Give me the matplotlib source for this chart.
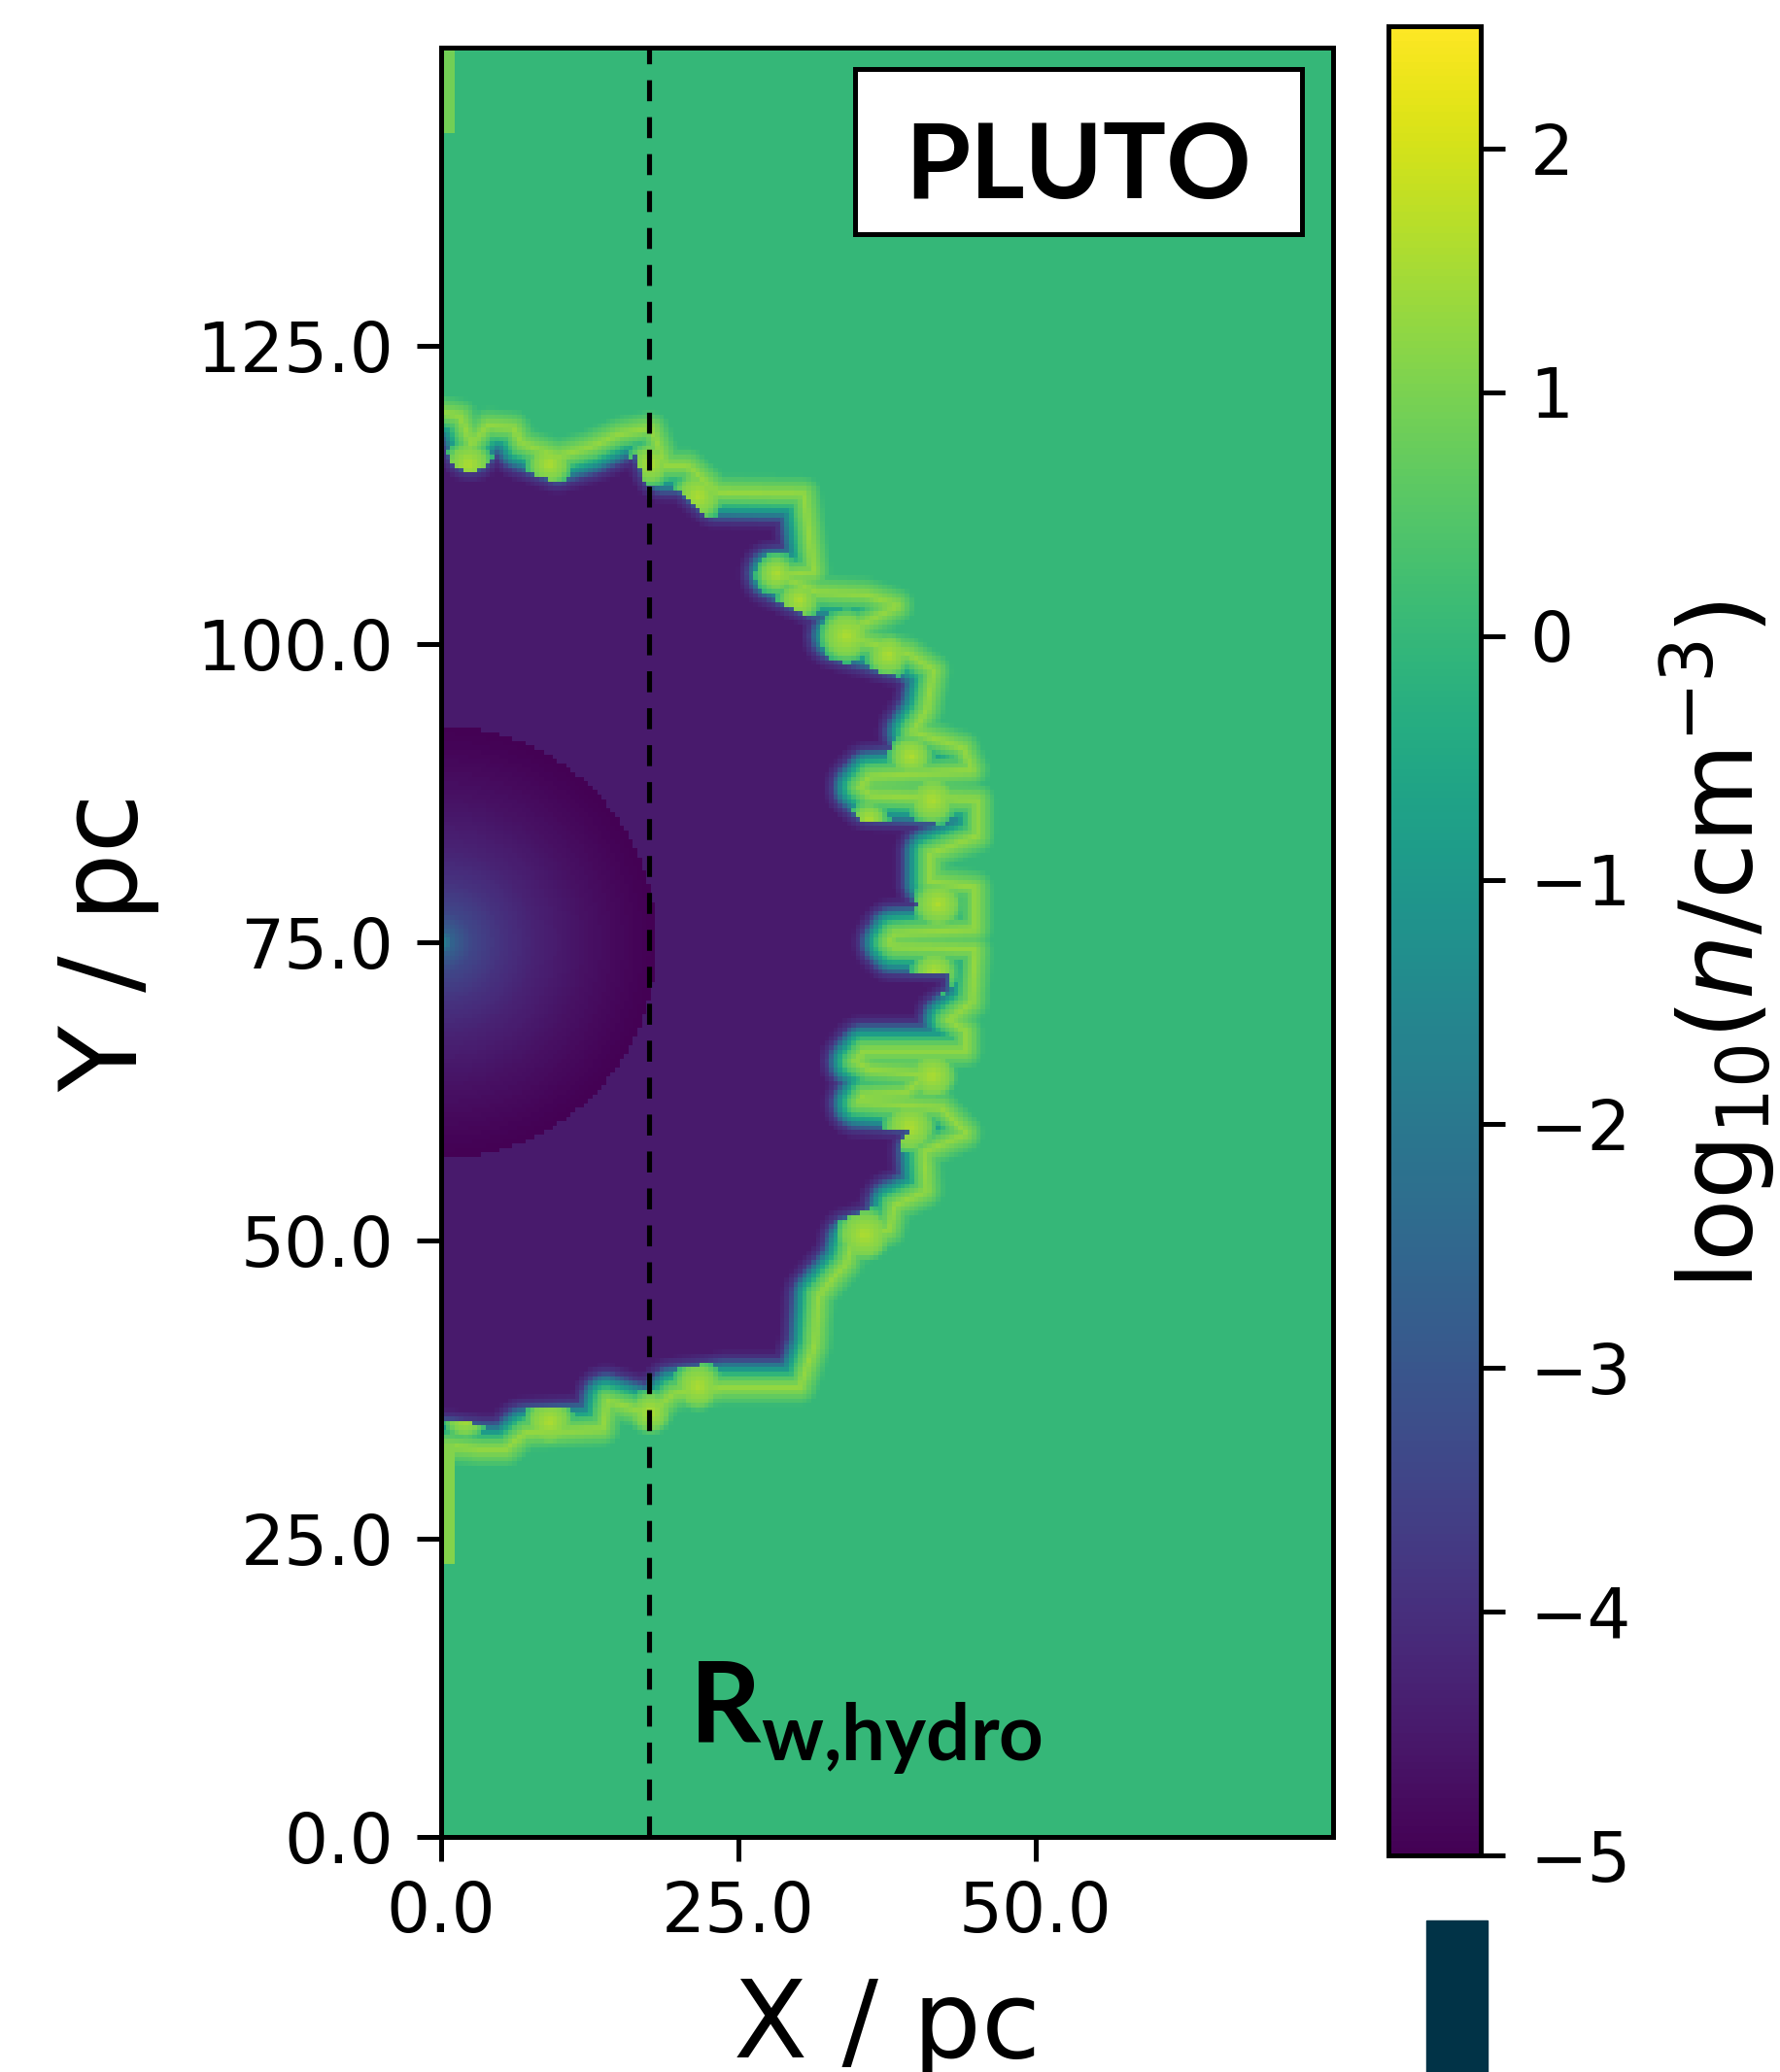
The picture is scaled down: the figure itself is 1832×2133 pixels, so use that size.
import numpy as np
import matplotlib
matplotlib.use('Agg')
import matplotlib.pyplot as plt
from matplotlib.path import Path
from matplotlib.patches import Rectangle

# outline of the shocked wind bubble (pc), top -> bottom
edge_x = [-1.0, 1.5, 2.5, 4.0, 6.0, 6.7, 9.8, 12.6, 15.1, 17.6, 18.8, 20.7, 23.2,
          30.4, 30.8, 31.2, 27.9, 31.6, 35.7, 38.2, 33.2, 39.2, 41.3, 40.7, 39.5,
          43.8, 44.5, 36.0, 35.1, 36.0, 45.0, 45.0, 41.0, 41.0, 44.8, 44.8, 38.0,
          37.5, 38.0, 44.8, 44.5, 42.5, 44.0, 44.0, 35.5, 34.7, 36.0, 40.5, 39.0,
          35.5, 35.0, 42.0, 44.0, 40.5, 40.7, 38.0, 37.6, 34.5, 34.0, 31.6, 31.3,
          30.1, 23.8, 19.5, 17.6, 13.9, 13.5, 7.0, 5.4, 3.3, 0.7, -1.0]
edge_y = [119.5, 119.0, 116.5, 118.2, 118.0, 116.7, 115.6, 116.4, 117.5, 118.0,
          114.8, 114.8, 112.6, 112.5, 109.4, 106.1, 105.9, 104.2, 104.0, 103.2,
          100.7, 99.1, 97.7, 94.5, 92.6, 91.2, 89.5, 89.0, 88.0, 87.2, 86.8, 84.0,
          82.5, 80.0, 79.5, 76.2, 75.8, 75.0, 74.5, 74.3, 70.0, 68.5, 67.5, 66.0,
          66.0, 65.0, 64.2, 63.8, 62.5, 62.3, 61.5, 61.0, 59.0, 57.5, 54.2, 53.0,
          51.0, 50.0, 48.2, 45.4, 41.3, 37.8, 37.8, 37.3, 35.6, 36.7, 34.3, 34.0,
          32.6, 32.6, 32.9, 33.0]

# density across the bubble edge (signed distance in pc, negative = inside)
rim_d = [-3.0, -2.3, -1.6, -0.8, 0.1, 1.0, 1.7]
rim_logn = [-4.45, -3.8, -1.5, 0.4, 1.3, 0.6, 0.0]

# bright clumps in the mixing layer (pc)
clump_x = [2.3, 9.1, 17.6, 21.6, 28.2, 30.1, 34.1, 37.6, 39.5, 41.3, 36.0,
           41.8, 41.5, 41.3, 39.4, 35.6, 21.6, 17.6, 9.1, 2.0]
clump_y = [115.1, 115.1, 115.1, 112.4, 105.9, 103.7, 100.7, 99.1, 90.6,
           86.9, 85.3, 78.2, 72.5, 63.8, 59.5, 50.5, 37.8, 35.6, 34.8, 35.1]
clump_r = [1.4, 1.3, 1.3, 1.5, 1.1, 1.2, 1.6, 1.3, 1.3, 1.5, 1.0, 1.5, 1.3,
           1.5, 1.6, 1.7, 1.5, 1.3, 1.5, 1.2]
clump_prof = [1.6, 1.0, 0.0]

# free-flowing wind around the source at (0, 75)
wind_r = [0.0, 1.0, 2.5, 5.0, 8.0, 12.0, 16.0, 18.1]
wind_logn = [-1.5, -2.7, -3.4, -3.9, -4.3, -4.65, -4.9, -5.0]
wind_y0 = 75.0

# thin dense filaments along the symmetry axis
fil_y_lo = [143.0, 23.0]
fil_y_hi = [150.0, 33.0]
fil_width = [1.2, 1.3]
fil_logn = [0.9, 1.1]

r_w_hydro = 17.5

xticks = [0, 25, 50]
xtick_labels = ['0.0', '25.0', '50.0']
yticks = [0, 25, 50, 75, 100, 125]
ytick_labels = ['0.0', '25.0', '50.0', '75.0', '100.0', '125.0']
cbar_ticks = [-5, -4, -3, -2, -1, 0, 1, 2]

plt.rcParams['mathtext.fontset'] = 'custom'
plt.rcParams['mathtext.bf'] = 'Lato:bold'

# build the density map
dx = 0.375
xc = np.arange(dx / 2, 75, dx)
yc = np.arange(dx / 2, 150, dx)
X, Y = np.meshgrid(xc, yc)
pts = np.column_stack([X.ravel(), Y.ravel()])
poly = np.column_stack([edge_x, edge_y])

dmin = np.full(len(pts), np.inf)
for a, b in zip(poly[:-1], poly[1:]):
    ab = b - a
    t = np.clip(((pts - a) @ ab) / (ab @ ab), 0, 1)
    proj = a + t[:, None] * ab
    dmin = np.minimum(dmin, np.hypot(*(pts - proj).T))
inside = Path(poly).contains_points(pts)
sd = np.where(inside, -dmin, dmin).reshape(X.shape)
logn = np.interp(sd, rim_d, rim_logn)

# clumps only live in the mixing layer, not deep in the bubble
layer = sd > -2.0
for cx, cy, cr in zip(clump_x, clump_y, clump_r):
    dist = np.hypot(X - cx, Y - cy)
    v = np.interp(dist, [0, cr, cr + 0.7], clump_prof)
    m = layer & (dist < cr + 0.7)
    logn[m] = np.maximum(logn[m], v[m])

for lo, hi, w, v in zip(fil_y_lo, fil_y_hi, fil_width, fil_logn):
    m = (X < w) & (Y > lo) & (Y < hi)
    logn[m] = v

R = np.hypot(X, Y - wind_y0)
m = R < wind_r[-1]
logn[m] = np.interp(R[m], wind_r, wind_logn)

W, H = 1833, 2133
fig = plt.figure(figsize=(W / 100, H / 100), dpi=100)
ax = fig.add_axes([454 / W, (H - 1891) / H, 918 / W, 1842 / H])
im = ax.imshow(logn, origin='lower', extent=[0, 75, 0, 150], cmap='viridis',
               vmin=-5, vmax=2.5, interpolation='nearest', aspect='auto')
ax.axvline(r_w_hydro, color='black', lw=3.7, dashes=(4.2, 3.2))

ax.set_xticks(xticks)
ax.set_xticklabels(xtick_labels)
ax.set_yticks(yticks)
ax.set_yticklabels(ytick_labels)
ax.tick_params(length=18, width=3.6, labelsize=51)
ax.tick_params(axis='x', pad=14)
ax.tick_params(axis='y', pad=17)
for s in ax.spines.values():
    s.set_linewidth(3.6)

ax.set_xlabel('X / pc', fontsize=80)
ax.xaxis.set_label_coords(0.5, -0.0776)
ax.set_ylabel('Y / pc', fontsize=80)
ax.yaxis.set_label_coords(-0.316, 0.5)

# PLUTO box and radius label
ax.add_patch(Rectangle((34.8, 134.4), 37.6, 13.8, facecolor='white',
                       edgecolor='black', lw=3.6, zorder=5))
ax.text(53.6, 137.4, 'PLUTO', family='Lato', weight='bold', fontsize=78,
        ha='center', va='baseline', zorder=6)
ax.text(20.8, 7.8, r'$\mathbf{R}_{\mathbf{w{,}hydro}}$', fontsize=82,
        ha='left', va='baseline')

# colorbar
cax = fig.add_axes([1429.5 / W, (H - 1909.5) / H, 95 / W, 1882.5 / H])
cb = fig.colorbar(im, cax=cax, ticks=cbar_ticks)
cb.outline.set_linewidth(3.6)
cax.tick_params(length=18, width=3.6, labelsize=51, pad=18)
fig.text(1768 / W, 1 - 973 / H, r'$\mathrm{log}_{10}(n/\mathrm{cm}^{-3})$',
         rotation=90, ha='center', va='center', fontsize=76)

# cropped block at the bottom edge
fig.add_artist(Rectangle((1468 / W, 0), 63 / W, 156 / H,
                         transform=fig.transFigure, color='#013347'))

fig.savefig('out.png', dpi=100)
